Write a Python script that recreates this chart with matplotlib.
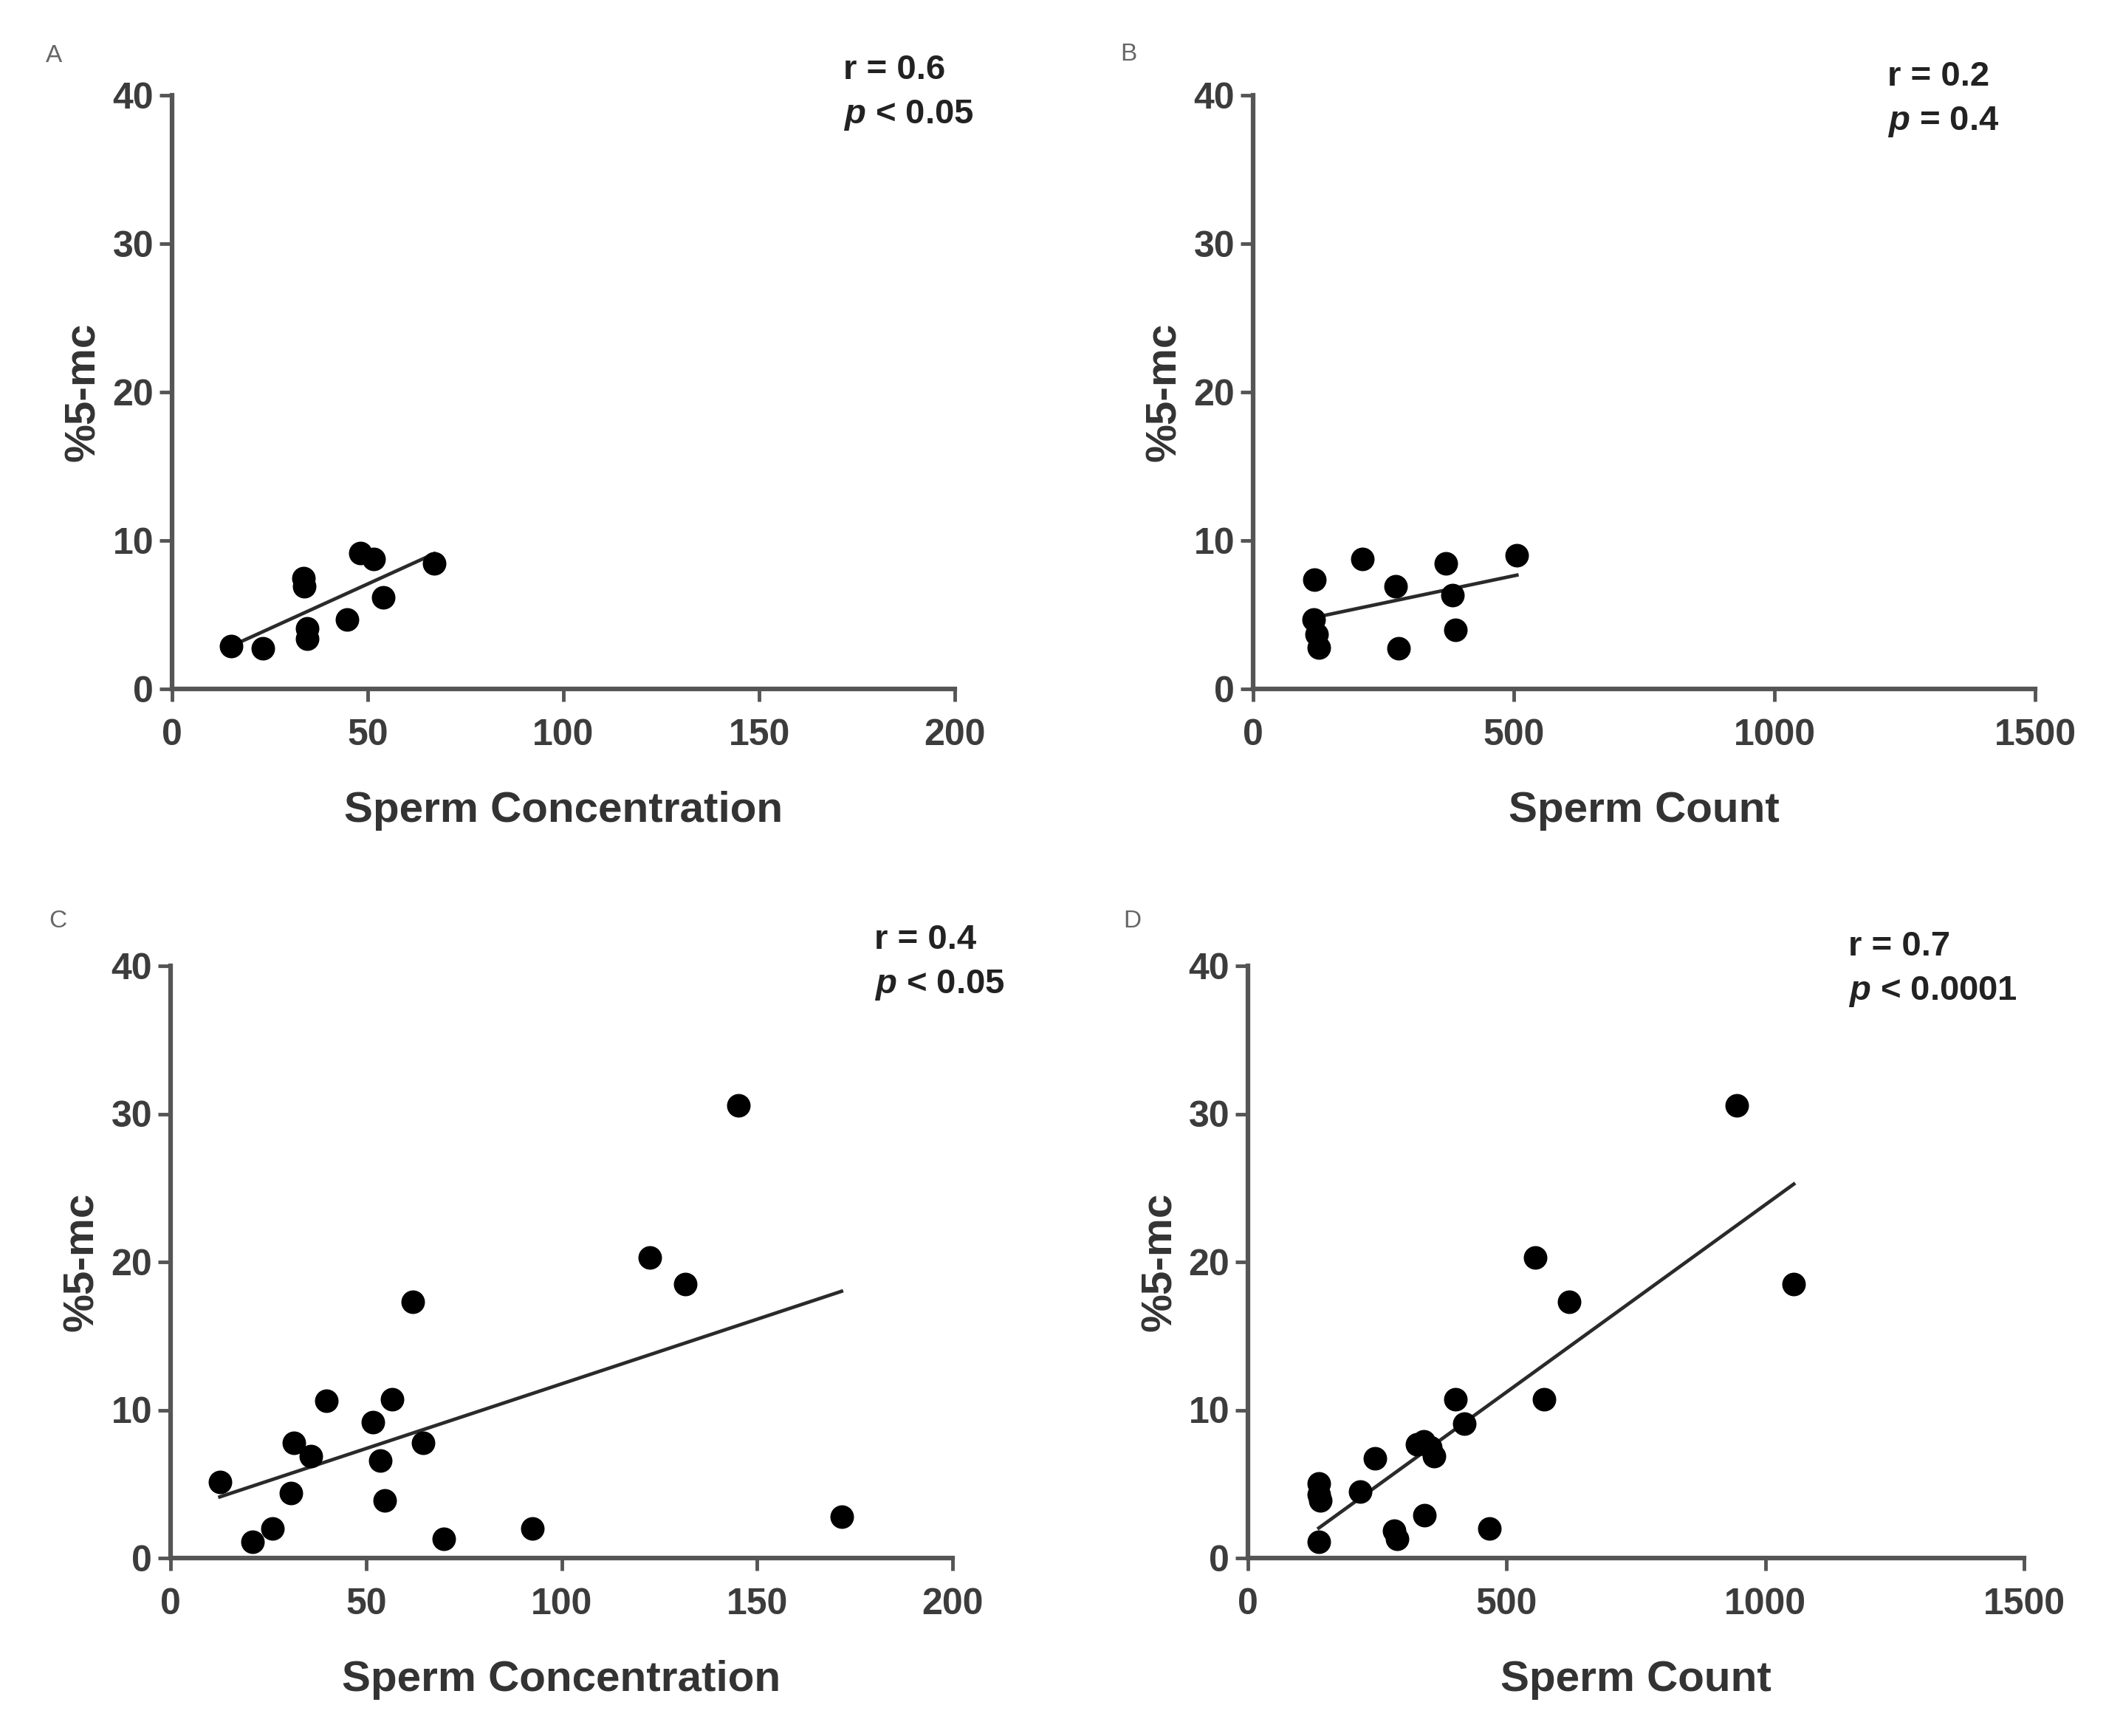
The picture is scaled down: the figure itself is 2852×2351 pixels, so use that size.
"""
%5-mc vs sperm parameters: four scatter panels with linear fits.
"""

import matplotlib
matplotlib.use("Agg")
import matplotlib.pyplot as plt
import numpy as np

plt.rcParams["font.family"] = ["Liberation Sans", "DejaVu Sans"]
plt.rcParams["mathtext.fontset"] = "custom"
plt.rcParams["mathtext.it"] = "Liberation Sans:italic:bold"
plt.rcParams["mathtext.rm"] = "Liberation Sans:bold"

# ---------------------------------------------------------------------------
# Data
# ---------------------------------------------------------------------------

a_conc = [15.1, 23.2, 33.5, 33.8, 34.5, 34.5, 44.8, 48.1, 51.5, 54.0, 67.0]
a_mc = [2.87, 2.72, 7.46, 6.9, 4.1, 3.36, 4.66, 9.14, 8.77, 6.16, 8.47]

b_count = [118, 116, 122, 126, 210, 273, 279, 370, 382, 388, 506]
b_mc = [7.34, 4.66, 3.7, 2.8, 8.76, 6.9, 2.72, 8.46, 6.34, 4.0, 9.0]

c_conc = [12.6, 21.0, 26.0, 30.8, 31.5, 35.8, 39.9, 51.8, 53.7, 54.7,
          56.7, 61.9, 64.5, 69.8, 92.5, 122.6, 131.6, 145.3, 171.6]
c_mc = [5.14, 1.12, 2.0, 4.4, 7.8, 6.86, 10.6, 9.2, 6.6, 3.9,
        10.7, 17.3, 7.8, 1.3, 2.0, 20.3, 18.5, 30.55, 2.8]

d_count = [137, 137, 140, 137, 217, 246, 282, 288, 327, 340, 353,
           359, 341, 401, 418, 467, 555, 573, 621, 945, 1055]
d_mc = [5.06, 4.3, 3.9, 1.12, 4.5, 6.75, 1.87, 1.3, 7.7, 7.87, 7.5,
        6.9, 2.9, 10.7, 9.1, 2.0, 20.3, 10.7, 17.3, 30.55, 18.5]

panel_letters = ["A", "B", "C", "D"]
stats_r = ["0.6", "0.2", "0.4", "0.7"]
stats_p = ["< 0.05", "= 0.4", "< 0.05", "< 0.0001"]
x_labels = ["Sperm Concentration", "Sperm Count",
            "Sperm Concentration", "Sperm Count"]

AXIS_GREY = "#555555"
TEXT_GREY = "#333333"


def _draw_panel(fig, rect, x, y, xmax, xticks, xlabel, letter, r_txt, p_txt,
                letter_xy, stat_xy):
    ax = fig.add_axes(rect)
    x = np.asarray(x, dtype=float)
    y = np.asarray(y, dtype=float)

    ax.plot(x, y, "o", color="black", markersize=22, clip_on=False, zorder=3)

    # least-squares line over the data range
    slope, icpt = np.polyfit(x, y, 1)
    xs = np.array([x.min(), x.max()])
    ax.plot(xs, slope * xs + icpt, color="#2a2a2a", linewidth=3.4, zorder=2)

    ax.set_xlim(0, xmax)
    ax.set_ylim(0, 40)
    ax.set_xticks(xticks)
    ax.set_yticks([0, 10, 20, 30, 40])

    for side in ("top", "right"):
        ax.spines[side].set_visible(False)
    for side in ("left", "bottom"):
        ax.spines[side].set_color(AXIS_GREY)
        ax.spines[side].set_linewidth(4.5)

    ax.tick_params(axis="both", colors=AXIS_GREY, width=3.5, length=12,
                   labelsize=36, labelcolor="#3c3c3c")
    ax.tick_params(axis="x", pad=17)
    ax.tick_params(axis="y", pad=6)
    for lab in ax.get_xticklabels() + ax.get_yticklabels():
        lab.set_fontweight("bold")

    ax.set_xlabel(xlabel, fontsize=42, fontweight="bold", color=TEXT_GREY)
    ax.set_ylabel("%5-mc", fontsize=42, fontweight="bold", color=TEXT_GREY)
    ax.xaxis.set_label_coords(0.5, -0.172)
    ax.yaxis.set_label_coords(-0.088, 0.5)

    fig.text(letter_xy[0], letter_xy[1], letter, fontsize=24, color="#666666",
             ha="left", va="center")
    fig.text(stat_xy[0], stat_xy[1], f"r = {r_txt}", fontsize=34,
             fontweight="bold", color="#222222", ha="left", va="center")
    fig.text(stat_xy[0], stat_xy[1] - 0.026, r"$\mathit{p}$" + f" {p_txt}",
             fontsize=34, fontweight="bold", color="#222222",
             ha="left", va="center")
    return ax


W, H = 2852, 2351
fig = plt.figure(figsize=(W / 100, H / 100), dpi=100)
fig.patch.set_facecolor("white")

conc_ticks = [0, 50, 100, 150, 200]
count_ticks = [0, 500, 1000, 1500]

_draw_panel(fig, [233 / W, 1 - 933 / H, 1060 / W, 804 / H], a_conc, a_mc,
            200, conc_ticks, x_labels[0], panel_letters[0], stats_r[0],
            stats_p[0], (62 / W, 1 - 76 / H), (1142 / W, 1 - 95 / H))
_draw_panel(fig, [1697 / W, 1 - 933 / H, 1059 / W, 804 / H], b_count, b_mc,
            1500, count_ticks, x_labels[1], panel_letters[1], stats_r[1],
            stats_p[1], (1517 / W, 1 - 73 / H), (2556 / W, 1 - 104 / H))
_draw_panel(fig, [231 / W, 1 - 2110 / H, 1059 / W, 802 / H], c_conc, c_mc,
            200, conc_ticks, x_labels[2], panel_letters[2], stats_r[2],
            stats_p[2], (66 / W, 1 - 1248 / H), (1184 / W, 1 - 1273 / H))
_draw_panel(fig, [1690 / W, 1 - 2110 / H, 1051 / W, 802 / H], d_count, d_mc,
            1500, count_ticks, x_labels[3], panel_letters[3], stats_r[3],
            stats_p[3], (1521 / W, 1 - 1248 / H), (2503 / W, 1 - 1282 / H))

fig.savefig("out.png", dpi=100, facecolor="white")
plt.close(fig)
